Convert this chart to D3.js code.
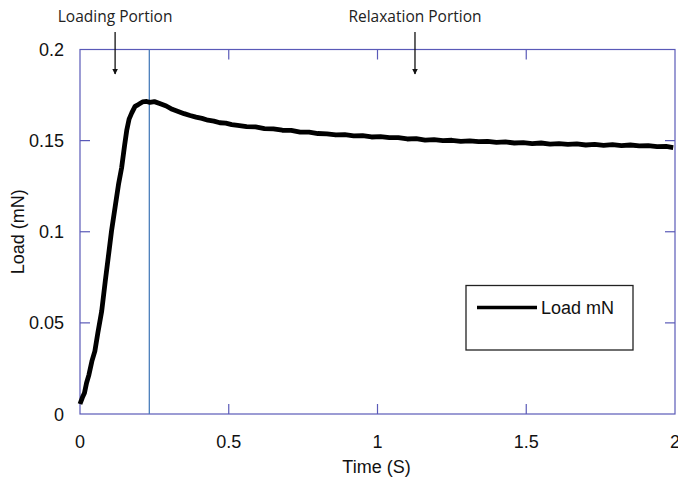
<!DOCTYPE html>
<html>
<head>
<meta charset="utf-8">
<script src="https://cdn.jsdelivr.net/npm/d3@7"></script>
<style>
  html, body { margin: 0; padding: 0; background: #fff; }
  svg { display: block; }
</style>
</head>
<body>
<svg id="chart" width="678" height="480"></svg>
<script>
// Load response over time: loading ramp then relaxation
const timeS = [
  0.000, 0.008, 0.015, 0.022, 0.030, 0.040, 0.050, 0.060, 0.073, 0.085,
  0.095, 0.106, 0.118, 0.130, 0.140, 0.150, 0.157, 0.165, 0.174, 0.185,
  0.196, 0.210, 0.224, 0.235, 0.250, 0.270, 0.290, 0.310, 0.330, 0.350,
  0.370, 0.390, 0.410, 0.430, 0.450, 0.470, 0.490, 0.510, 0.530, 0.560,
  0.590, 0.620, 0.650, 0.680, 0.710, 0.740, 0.770, 0.800, 0.830, 0.860,
  0.890, 0.920, 0.950, 0.980, 1.010, 1.040, 1.070, 1.100, 1.130, 1.160,
  1.190, 1.220, 1.250, 1.280, 1.310, 1.340, 1.370, 1.400, 1.430, 1.460,
  1.490, 1.520, 1.550, 1.580, 1.610, 1.640, 1.670, 1.700, 1.730, 1.760,
  1.790, 1.820, 1.850, 1.880, 1.910, 1.940, 1.970, 1.994
];
const loadMN = [
  0.0055, 0.0090, 0.0115, 0.0170, 0.0215, 0.0290, 0.0345, 0.0445, 0.0565, 0.0730,
  0.0860, 0.1005, 0.1135, 0.1265, 0.1352, 0.1475, 0.1555, 0.1618, 0.1652, 0.1688,
  0.1698, 0.1712, 0.1715, 0.1710, 0.1714, 0.1702, 0.1690, 0.1672, 0.1660, 0.1648,
  0.1638, 0.1629, 0.1622, 0.1612, 0.1607, 0.1598, 0.1596, 0.1588, 0.1584, 0.1577,
  0.1575, 0.1566, 0.1564, 0.1557, 0.1556, 0.1547, 0.1547, 0.1539, 0.1537, 0.1531,
  0.1533, 0.1526, 0.1527, 0.1520, 0.1522, 0.1516, 0.1517, 0.1509, 0.1511, 0.1503,
  0.1505, 0.1500, 0.1502, 0.1496, 0.1499, 0.1494, 0.1496, 0.1490, 0.1493, 0.1487,
  0.1489, 0.1483, 0.1487, 0.1481, 0.1484, 0.1479, 0.1482, 0.1476, 0.1479, 0.1474,
  0.1478, 0.1473, 0.1476, 0.1471, 0.1473, 0.1467, 0.1468, 0.1462
];
const xTicks = [0, 0.5, 1, 1.5, 2];
const yTicks = [0, 0.05, 0.1, 0.15, 0.2];
const xTickLabels = ["0", "0.5", "1", "1.5", "2"];
const yTickLabels = ["0", "0.05", "0.1", "0.15", "0.2"];
const peakTime = 0.233;
const seriesName = "Load mN";
const notes = [
  { text: "Loading Portion", t: 0.118 },
  { text: "Relaxation Portion", t: 1.126 }
];

const svg = d3.select("#chart");
const W = 678, H = 480;
const m = { left: 80, right: 3, top: 49.5, bottom: 66 };
const x = d3.scaleLinear().domain([0, 2]).range([m.left, W - m.right]);
const y = d3.scaleLinear().domain([0, 0.2]).range([H - m.bottom, m.top]);

const frameColor = "#5a5ab8";
const fontAxis = "Liberation Sans, Arial, sans-serif";

// plot frame
svg.append("rect")
  .attr("x", x(0)).attr("y", y(0.2))
  .attr("width", x(2) - x(0)).attr("height", y(0) - y(0.2))
  .attr("fill", "none").attr("stroke", frameColor).attr("stroke-width", 1.2);

// inner tick marks on all four sides
const tickLen = 10;
const innerX = xTicks.slice(1, -1), innerY = yTicks.slice(1, -1);
svg.append("g").selectAll("line.bx").data(innerX).join("line")
  .attr("x1", d => x(d)).attr("x2", d => x(d))
  .attr("y1", y(0)).attr("y2", y(0) - tickLen)
  .attr("stroke", frameColor).attr("stroke-width", 1.2);
svg.append("g").selectAll("line.tx").data(innerX).join("line")
  .attr("x1", d => x(d)).attr("x2", d => x(d))
  .attr("y1", y(0.2)).attr("y2", y(0.2) + tickLen)
  .attr("stroke", frameColor).attr("stroke-width", 1.2);
svg.append("g").selectAll("line.ly").data(innerY).join("line")
  .attr("x1", x(0)).attr("x2", x(0) + tickLen)
  .attr("y1", d => y(d)).attr("y2", d => y(d))
  .attr("stroke", frameColor).attr("stroke-width", 1.2);
svg.append("g").selectAll("line.ry").data(innerY).join("line")
  .attr("x1", x(2)).attr("x2", x(2) - tickLen)
  .attr("y1", d => y(d)).attr("y2", d => y(d))
  .attr("stroke", frameColor).attr("stroke-width", 1.2);

// tick labels
svg.append("g").selectAll("text").data(xTicks).join("text")
  .attr("x", d => x(d)).attr("y", y(0) + 34)
  .attr("text-anchor", "middle")
  .attr("font-family", fontAxis).attr("font-size", 18).attr("fill", "#111")
  .text((d, i) => xTickLabels[i]);
svg.append("g").selectAll("text").data(yTicks).join("text")
  .attr("x", x(0) - 16).attr("y", d => y(d) + 6.5)
  .attr("text-anchor", "end")
  .attr("font-family", fontAxis).attr("font-size", 18).attr("fill", "#111")
  .text((d, i) => yTickLabels[i]);

// axis titles
svg.append("text")
  .attr("x", (x(0) + x(2)) / 2 - 1).attr("y", 473)
  .attr("text-anchor", "middle")
  .attr("font-family", fontAxis).attr("font-size", 18).attr("fill", "#111")
  .text("Time (S)");
svg.append("text")
  .attr("transform", `translate(24, ${(y(0) + y(0.2)) / 2}) rotate(-90)`)
  .attr("text-anchor", "middle")
  .attr("font-family", fontAxis).attr("font-size", 18).attr("fill", "#111")
  .text("Load (mN)");

// boundary between loading and relaxation
svg.append("line")
  .attr("x1", x(peakTime)).attr("x2", x(peakTime))
  .attr("y1", y(0.2)).attr("y2", y(0))
  .attr("stroke", "#4a7ebb").attr("stroke-width", 1.3);

// load curve
const pts = timeS.map((t, i) => [t, loadMN[i]]);
svg.append("path")
  .datum(pts)
  .attr("fill", "none").attr("stroke", "#000").attr("stroke-width", 4.8)
  .attr("stroke-linejoin", "round")
  .attr("d", d3.line().x(d => x(d[0])).y(d => y(d[1])));

// legend
const lg = svg.append("g");
lg.append("rect")
  .attr("x", 466).attr("y", 285.5).attr("width", 167).attr("height", 64.5)
  .attr("fill", "#fff").attr("stroke", "#222").attr("stroke-width", 1.3);
lg.append("line")
  .attr("x1", 477).attr("x2", 537).attr("y1", 307.5).attr("y2", 307.5)
  .attr("stroke", "#000").attr("stroke-width", 3.5);
lg.append("text")
  .attr("x", 541).attr("y", 314)
  .attr("font-family", fontAxis).attr("font-size", 18).attr("fill", "#111")
  .text(seriesName);

// section annotations with arrows
svg.append("defs").append("marker")
  .attr("id", "arrowhead").attr("viewBox", "0 0 10 10")
  .attr("refX", 9).attr("refY", 5)
  .attr("markerWidth", 6).attr("markerHeight", 6)
  .attr("markerUnits", "userSpaceOnUse")
  .attr("orient", "auto")
  .append("path").attr("d", "M0,0 L10,5 L0,10 Z").attr("fill", "#111");

const ng = svg.append("g").selectAll("g").data(notes).join("g");
ng.append("text")
  .attr("x", d => x(d.t)).attr("y", 22)
  .attr("text-anchor", "middle")
  .attr("font-family", "Open Sans, Lato, sans-serif").attr("font-size", 15.5).attr("fill", "#222")
  .text(d => d.text);
ng.append("line")
  .attr("x1", d => x(d.t)).attr("x2", d => x(d.t))
  .attr("y1", 32).attr("y2", 74)
  .attr("stroke", "#111").attr("stroke-width", 1.3)
  .attr("marker-end", "url(#arrowhead)");
</script>
</body>
</html>
